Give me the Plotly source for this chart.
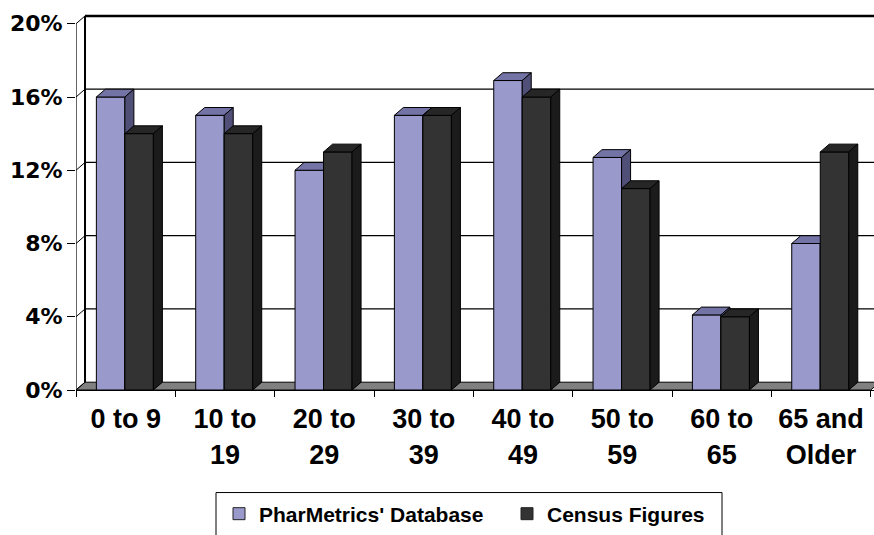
import plotly.graph_objects as go

# ---- data ----
categories = ["0 to 9", "10 to<br>19", "20 to<br>29", "30 to<br>39",
              "40 to<br>49", "50 to<br>59", "60 to<br>65", "65 and<br>Older"]
pharmetrics = [16.0, 15.0, 12.0, 15.0, 16.9, 12.7, 4.1, 8.0]
census = [14.0, 14.0, 13.0, 15.0, 16.0, 11.0, 4.0, 13.0]
y_ticks = [0, 4, 8, 12, 16, 20]
y_tick_labels = ["0%", "4%", "8%", "12%", "16%", "20%"]
series_names = ["PharMetrics' Database", "Census Figures"]

# ---- geometry / style (window pixels) ----
W, H = 874, 535
ML, MT, MR = 76, 14, 0
MB = H - 399
PW, PH = W - ML - MR, H - MT - MB
PX_PER_CAT = 99.34
PX_PER_PCT = 18.75
DX = 9 / PX_PER_CAT     # depth offset in x units
DY = 8 / PX_PER_PCT     # depth offset in y units
BAR_W = 0.287
OFFSETS = [-0.295, -0.008]
COLORS = [
    dict(front="#9999CC", top="#7373A6", side="#4F4F78"),
    dict(front="#333333", top="#262626", side="#1B1B1B"),
]
n = len(categories)
X_MIN = -0.5
X_MAX = -0.5 + PW / PX_PER_CAT
Y_MAX = PH / PX_PER_PCT


def px_x(p):
    return (p - ML) / PW


def px_y(p):
    return (H - MB - p) / PH


def faces(values, off):
    fx, fy, tx, ty, sx, sy = [], [], [], [], [], []
    for i, v in enumerate(values):
        x0 = i + off
        x1 = x0 + BAR_W
        fx += [x0, x1, x1, x0, x0, None]
        fy += [0, 0, v, v, 0, None]
        tx += [x0, x1, x1 + DX, x0 + DX, x0, None]
        ty += [v, v, v + DY, v + DY, v, None]
        sx += [x1, x1 + DX, x1 + DX, x1, x1, None]
        sy += [0, DY, v + DY, v, 0, None]
    return (fx, fy), (tx, ty), (sx, sy)


fig = go.Figure()

# front (left) axis line
fig.add_trace(go.Scatter(x=[X_MIN, X_MIN], y=[0, max(y_ticks)], mode="lines",
                         line=dict(color="black", width=1.2), cliponaxis=False,
                         showlegend=False, hoverinfo="skip"))

for values, off, col in zip([pharmetrics, census], OFFSETS, COLORS):
    (fx, fy), (tx, ty), (sx, sy) = faces(values, off)
    for (xs, ys), c in [((fx, fy), col["front"]), ((tx, ty), col["top"]), ((sx, sy), col["side"])]:
        fig.add_trace(go.Scatter(x=xs, y=ys, mode="lines", fill="toself",
                                 fillcolor=c, line=dict(color="black", width=1),
                                 showlegend=False, hoverinfo="skip"))

# legend entries (two legends inside one drawn box)
legend_refs = ["legend", "legend2"]
for name, col, lg in zip(series_names, COLORS, legend_refs):
    fig.add_trace(go.Scatter(x=[None], y=[None], mode="markers", name=name, legend=lg,
                             marker=dict(symbol="square", size=12, color=col["front"],
                                         line=dict(color="#222222", width=1))))

shapes = []
# floor
shapes.append(dict(type="path", layer="below",
                   path=f"M {X_MIN},0 L {n - 0.5},0 L {n - 0.5 + DX},{DY} L {X_MIN + DX},{DY} Z",
                   fillcolor="#808080", line=dict(color="black", width=1)))
# back wall gridlines + left wall diagonals
for v in y_ticks:
    if v > 0:
        shapes.append(dict(type="line", layer="below", x0=X_MIN + DX, x1=X_MAX + 1,
                           y0=v + DY, y1=v + DY,
                           line=dict(color="black", width=2.5 if v == max(y_ticks) else 1.2)))
    shapes.append(dict(type="line", layer="below", x0=X_MIN, x1=X_MIN + DX,
                       y0=v, y1=v + DY, line=dict(color="black", width=1)))
# back wall left edge
shapes.append(dict(type="line", layer="below", x0=X_MIN + DX, x1=X_MIN + DX,
                   y0=DY, y1=max(y_ticks) + DY, line=dict(color="black", width=2)))
# legend box
shapes.append(dict(type="rect", xref="paper", yref="paper",
                   x0=px_x(216), x1=px_x(722), y0=px_y(504), y1=px_y(560),
                   line=dict(color="black", width=1), fillcolor="rgba(0,0,0,0)"))

legend_font = dict(family="Liberation Sans", size=21, color="black", weight="bold")
fig.update_layout(
    width=W, height=H,
    margin=dict(l=ML, r=MR, t=MT, b=MB),
    paper_bgcolor="white", plot_bgcolor="white",
    shapes=shapes,
    showlegend=True,
    legend=dict(orientation="h", x=px_x(219), xanchor="left",
                y=px_y(505), yanchor="top", bgcolor="rgba(0,0,0,0)",
                borderwidth=0, font=legend_font),
    legend2=dict(orientation="h", x=px_x(507), xanchor="left",
                 y=px_y(505), yanchor="top", bgcolor="rgba(0,0,0,0)",
                 borderwidth=0, font=legend_font),
    xaxis=dict(range=[X_MIN, X_MAX], tickvals=list(range(n)), ticktext=categories,
               ticks="", showgrid=False, zeroline=False, automargin=False,
               showline=True, linecolor="black", linewidth=1, ticklabelstandoff=5,
               tickfont=dict(family="Liberation Sans", size=27, color="black", weight="bold"),
               minor=dict(tickvals=[i - 0.5 for i in range(n + 1)], ticks="outside",
                          ticklen=6, tickcolor="black", tickwidth=1, showgrid=False),
               fixedrange=True),
    yaxis=dict(range=[0, Y_MAX], tickvals=y_ticks, ticktext=y_tick_labels,
               ticks="outside", ticklen=8, tickcolor="black", tickwidth=1,
               showgrid=False, zeroline=False, showline=False, automargin=False,
               tickfont=dict(family="DejaVu Sans", size=22, color="black", weight="bold"),
               fixedrange=True),
)

fig.write_html(
    "out.html",
    config={"staticPlot": True},
    post_script="document.body.style.margin='0';document.body.style.overflow='hidden';",
)
